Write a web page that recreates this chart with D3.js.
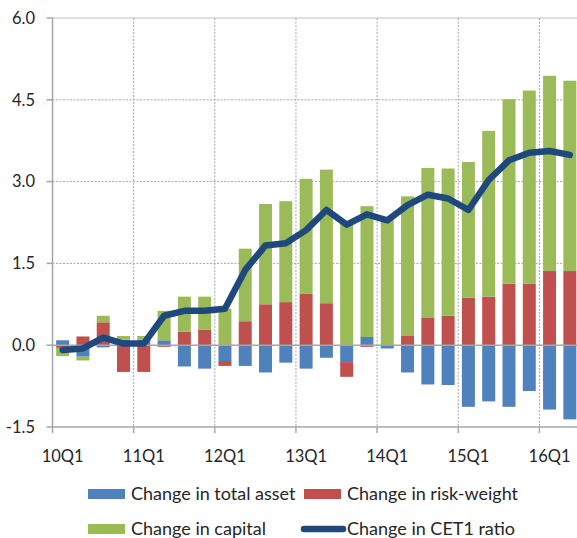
<!DOCTYPE html>
<html>
<head>
<meta charset="utf-8">
<script src="https://d3js.org/d3.v7.min.js"></script>
<style>
  body { margin: 0; background: #fff; }
  svg { display: block; font-family: Lato, "Open Sans", sans-serif; }
</style>
</head>
<body>
<script>
  // quarters 10Q1 .. 16Q2
  const quarters = [];
  for (let yr = 10; yr <= 16; yr++) for (let q = 1; q <= 4; q++) quarters.push(yr + 'Q' + q);
  quarters.splice(26);

  const totalAsset = [0.09, -0.21, -0.04, 0.10, 0.10, 0.09, -0.39, -0.43, -0.29, -0.38, -0.50, -0.32, -0.43,
                      -0.23, -0.31, 0.15, -0.06, -0.50, -0.72, -0.73, -1.13, -1.03, -1.13, -0.84, -1.18, -1.36];
  const riskWeight = [-0.05, 0.16, 0.42, -0.49, -0.49, -0.03, 0.25, 0.28, -0.09, 0.44, 0.75, 0.79, 0.94,
                      0.77, -0.27, -0.03, 0.00, 0.18, 0.51, 0.54, 0.87, 0.89, 1.13, 1.13, 1.36, 1.36];
  const capital = [-0.15, -0.07, 0.12, 0.07, 0.07, 0.54, 0.64, 0.61, 0.67, 1.33, 1.84, 1.85, 2.11,
                   2.45, 2.25, 2.40, 2.32, 2.55, 2.74, 2.70, 2.49, 3.04, 3.38, 3.54, 3.58, 3.49];
  const cet1 = [-0.09, -0.06, 0.14, 0.03, 0.03, 0.54, 0.63, 0.63, 0.67, 1.38, 1.83, 1.87, 2.11,
                2.48, 2.21, 2.40, 2.29, 2.57, 2.76, 2.69, 2.48, 3.03, 3.39, 3.53, 3.56, 3.49];
  const yTicks = [-1.5, 0, 1.5, 3.0, 4.5, 6.0];

  const series = [
    {name: 'Change in total asset', values: totalAsset, color: '#4F81BD'},
    {name: 'Change in risk-weight', values: riskWeight, color: '#C0504D'},
    {name: 'Change in capital', values: capital, color: '#9BBB59'}
  ];
  const lineColor = '#1F497D';

  const W = 577, H = 538;
  const plotL = 52.5, plotR = 580, plotT = 18, plotB = 427;

  const svg = d3.select('body').append('svg').attr('width', W).attr('height', H);

  const x = d3.scaleBand().domain(quarters).range([plotL, plotR]).paddingInner(0.36).paddingOuter(0.18);
  const y = d3.scaleLinear().domain([-1.5, 6]).range([plotB, plotT]);
  const gap = x.step() - x.bandwidth();

  // horizontal gridlines
  svg.append('g').selectAll('line')
    .data(yTicks.filter(d => d > 0))
    .enter().append('line')
    .attr('x1', plotL).attr('x2', W)
    .attr('y1', d => y(d)).attr('y2', d => y(d))
    .attr('stroke', d => d == 6 ? '#bfbfbf' : '#a6a6a6')
    .attr('stroke-width', 1)
    .attr('stroke-dasharray', d => d == 6 ? null : '2,1.5');

  // vertical gridlines at year boundaries
  const yearStarts = quarters.filter(q => q.endsWith('Q1'));
  svg.append('g').selectAll('line')
    .data(yearStarts.slice(1))
    .enter().append('line')
    .attr('x1', d => x(d) - gap / 2).attr('x2', d => x(d) - gap / 2)
    .attr('y1', plotT).attr('y2', plotB)
    .attr('stroke', '#a6a6a6')
    .attr('stroke-dasharray', '2,1.5');

  // stacked bars, positives up and negatives down
  const stacks = quarters.map(() => ({pos: 0, neg: 0}));
  series.forEach(s => {
    const g = svg.append('g');
    s.values.forEach((v, i) => {
      if (v == 0) return;
      const st = stacks[i];
      let y0, y1;
      if (v > 0) { y0 = st.pos; y1 = st.pos + v; st.pos = y1; }
      else { y0 = st.neg; y1 = st.neg + v; st.neg = y1; }
      g.append('rect')
        .attr('x', x(quarters[i]))
        .attr('width', x.bandwidth())
        .attr('y', y(Math.max(y0, y1)))
        .attr('height', Math.abs(y(y0) - y(y1)))
        .attr('fill', s.color);
    });
  });

  // zero line
  svg.append('line')
    .attr('x1', plotL).attr('x2', W)
    .attr('y1', y(0)).attr('y2', y(0))
    .attr('stroke', '#a6a6a6').attr('stroke-width', 1.5);

  // axes
  svg.append('line')
    .attr('x1', plotL).attr('x2', plotL).attr('y1', plotT).attr('y2', plotB)
    .attr('stroke', '#a6a6a6').attr('stroke-width', 1.5);
  svg.append('line')
    .attr('x1', plotL).attr('x2', W).attr('y1', plotB).attr('y2', plotB)
    .attr('stroke', '#a6a6a6').attr('stroke-width', 1.5);

  svg.append('g').selectAll('line')
    .data(yTicks)
    .enter().append('line')
    .attr('x1', plotL - 6).attr('x2', plotL)
    .attr('y1', d => y(d)).attr('y2', d => y(d))
    .attr('stroke', '#a6a6a6').attr('stroke-width', 1.5);

  svg.append('g').selectAll('line')
    .data(yearStarts)
    .enter().append('line')
    .attr('x1', d => x(d) - gap / 2).attr('x2', d => x(d) - gap / 2)
    .attr('y1', plotB).attr('y2', plotB + 6)
    .attr('stroke', '#a6a6a6').attr('stroke-width', 1.5);

  svg.append('g').selectAll('text')
    .data(yTicks)
    .enter().append('text')
    .attr('x', 35)
    .attr('y', d => y(d))
    .attr('dy', '0.35em')
    .attr('text-anchor', 'end')
    .attr('font-size', 16.5)
    .attr('fill', '#262626')
    .text(d => d.toFixed(1));

  svg.append('g').selectAll('text')
    .data(yearStarts)
    .enter().append('text')
    .attr('x', d => x(d) + x.bandwidth() / 2)
    .attr('y', 456)
    .attr('dy', '0.35em')
    .attr('text-anchor', 'middle')
    .attr('font-size', 16.5)
    .attr('fill', '#262626')
    .text(d => d);

  // CET1 line
  const line = d3.line()
    .x((d, i) => x(quarters[i]) + x.bandwidth() / 2)
    .y(d => y(d));
  svg.append('path')
    .datum(cet1)
    .attr('d', line)
    .attr('fill', 'none')
    .attr('stroke', lineColor)
    .attr('stroke-width', 6.5)
    .attr('stroke-linejoin', 'round')
    .attr('stroke-linecap', 'round');

  // legend
  const legendItems = [
    {name: series[0].name, color: series[0].color, kind: 'rect', sx: 88, tx: 131, ly: 494},
    {name: series[1].name, color: series[1].color, kind: 'rect', sx: 304, tx: 347, ly: 494},
    {name: series[2].name, color: series[2].color, kind: 'rect', sx: 88, tx: 131, ly: 529},
    {name: 'Change in CET1 ratio', color: lineColor, kind: 'line', sx: 304, tx: 347, ly: 529}
  ];
  const lg = svg.append('g');
  legendItems.forEach(d => {
    if (d.kind == 'rect') {
      lg.append('rect').attr('x', d.sx).attr('y', d.ly - 5).attr('width', 37).attr('height', 10).attr('fill', d.color);
    } else {
      lg.append('line').attr('x1', d.sx).attr('x2', d.sx + 39).attr('y1', d.ly).attr('y2', d.ly)
        .attr('stroke', d.color).attr('stroke-width', 6.5).attr('stroke-linecap', 'round');
    }
    lg.append('text')
      .attr('x', d.tx).attr('y', d.ly).attr('dy', '0.35em')
      .attr('font-size', 18).attr('fill', '#262626')
      .text(d.name);
  });
</script>
</body>
</html>
